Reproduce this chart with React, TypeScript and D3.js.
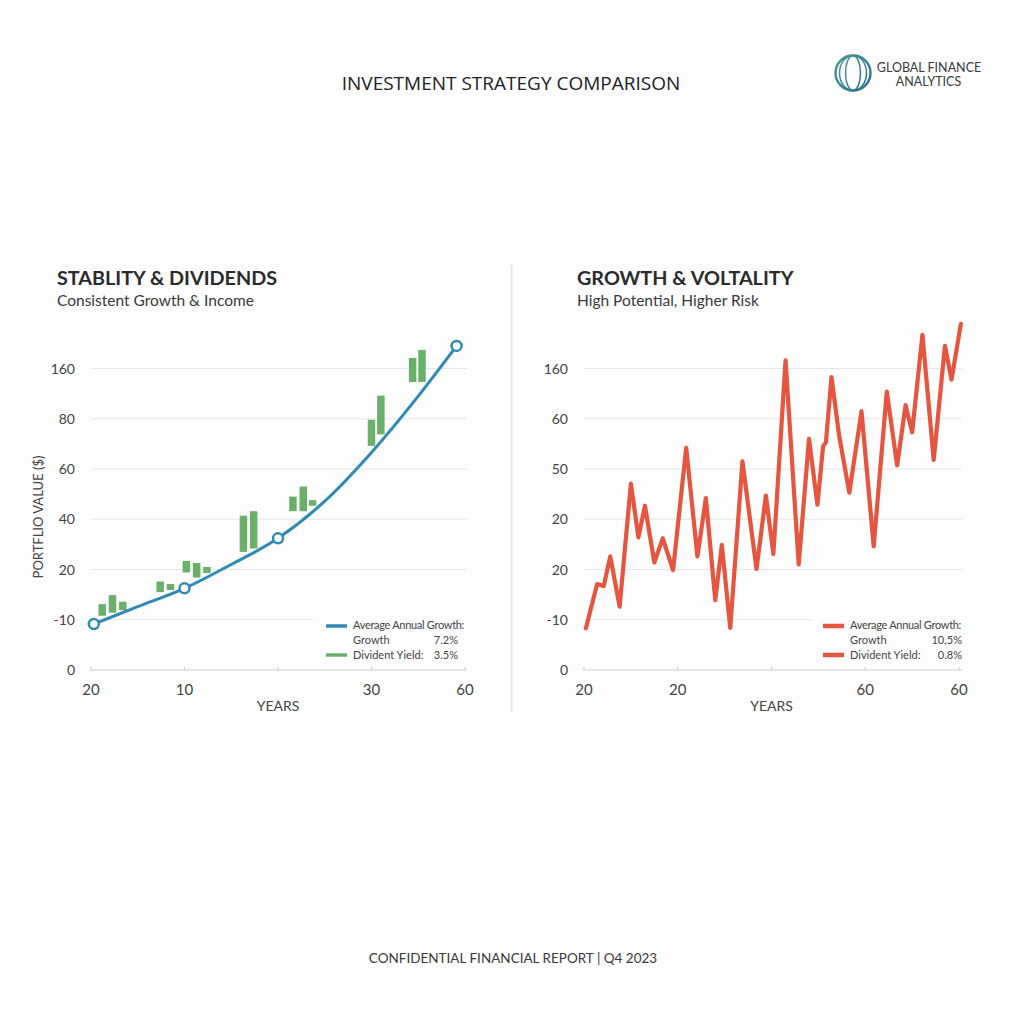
import React from "react";
import * as d3 from "d3";

// ---------- data (x in year-tick units, y in gridline units) ----------
const leftYTicks = ["0", "-10", "20", "40", "60", "80", "160"];
const rightYTicks = ["0", "-10", "20", "20", "50", "60", "160"];
const leftXTicks = ["20", "10", "", "30", "60"];
const rightXTicks = ["20", "20", "", "60", "60"];

const stableLine: [number, number][] = [
  [0.03, 0.915], [0.5, 1.26], [1.0, 1.625], [1.5, 2.1], [2.0, 2.62],
  [2.5, 3.36], [3.0, 4.33], [3.5, 5.45], [3.91, 6.45],
];
const stableMarkers: [number, number][] = [
  [0.03, 0.915], [1.0, 1.625], [2.0, 2.62], [3.91, 6.45],
];
const dividendX = [0.12, 0.23, 0.34, 0.74, 0.85, 1.02, 1.13, 1.24, 1.63, 1.74, 2.16, 2.27, 2.37, 3.0, 3.1, 3.44, 3.54];
const dividendLow = [1.08, 1.14, 1.19, 1.55, 1.59, 1.94, 1.84, 1.93, 2.35, 2.42, 3.16, 3.16, 3.27, 4.46, 4.69, 5.73, 5.73];
const dividendHigh = [1.31, 1.49, 1.36, 1.76, 1.71, 2.17, 2.13, 2.05, 3.07, 3.16, 3.45, 3.65, 3.38, 4.98, 5.46, 6.21, 6.37];

const growthX = [0.02, 0.14, 0.21, 0.28, 0.38, 0.5, 0.58, 0.65, 0.75, 0.84, 0.95, 1.09, 1.21, 1.3, 1.4, 1.47, 1.56, 1.69, 1.84, 1.94, 2.02, 2.15, 2.29, 2.4, 2.49, 2.55, 2.58, 2.64, 2.72, 2.83, 2.96, 3.09, 3.23, 3.34, 3.43, 3.5, 3.61, 3.73, 3.85, 3.92, 4.02];
const growthY = [0.83, 1.71, 1.67, 2.26, 1.26, 3.71, 2.64, 3.27, 2.14, 2.62, 1.99, 4.42, 2.26, 3.42, 1.39, 2.49, 0.84, 4.15, 2.01, 3.47, 2.31, 6.16, 2.1, 4.6, 3.29, 4.45, 4.53, 5.83, 4.68, 3.53, 5.15, 2.46, 5.54, 4.07, 5.27, 4.73, 6.67, 4.18, 6.45, 5.78, 6.89];

const BLUE = "#2f8ab5";
const GREEN = "#6aaf6a";
const RED = "#e5553f";
const TEXT = "#3a3a3a";

type PanelProps = {
  x0: number; x1: number; gridRight: number; labelX: number;
  yTicks: string[]; xTicks: string[]; children: (x: d3.ScaleLinear<number, number>, y: d3.ScaleLinear<number, number>) => React.ReactNode;
  legendX: number; swatch: [string, string]; swatchW: number; pct: [string, string]; pctX: number; gridCut: number;
};

function Panel(p: PanelProps) {
  const x = d3.scaleLinear().domain([0, 4]).range([p.x0, p.x1]);
  const y = d3.scaleLinear().domain([0, 6]).range([670, 368.5]);
  return (
    <g>
      {p.yTicks.map((t, i) => (
        <g key={i}>
          {i > 0 && (
            <line x1={p.x0} x2={i === 1 ? p.gridCut : p.gridRight} y1={y(i)} y2={y(i)} stroke="#e6e6e6" strokeWidth={1.2} />
          )}
          <text x={p.labelX} y={y(i) + 5} textAnchor="end" fontSize={14} fill="#444">{t}</text>
        </g>
      ))}
      <line x1={p.x0} x2={p.gridRight} y1={y(0)} y2={y(0)} stroke="#d0d0d0" strokeWidth={1.2} />
      {p.xTicks.map((t, i) => (
        <g key={i}>
          <line x1={x(i)} x2={x(i)} y1={y(0) - 3} y2={y(0) + 1} stroke="#d0d0d0" strokeWidth={1.2} />
          <text x={x(i)} y={695} textAnchor="middle" fontSize={15} fill="#444">{t}</text>
        </g>
      ))}
      <text x={x(2)} y={711} textAnchor="middle" fontSize={14} fill="#444">YEARS</text>
      {p.children(x, y)}
      <g fontSize={11} fill="#444">
        <line x1={p.legendX - 27} x2={p.legendX - 6} y1={626} y2={626} stroke={p.swatch[0]} strokeWidth={p.swatchW} />
        <line x1={p.legendX - 27} x2={p.legendX - 6} y1={655} y2={655} stroke={p.swatch[1]} strokeWidth={p.swatchW} />
        <text x={p.legendX} y={629} letterSpacing={-0.3}>Average Annual Growth:</text>
        <text x={p.legendX} y={644}>Growth</text>
        <text x={p.pctX} y={644} textAnchor="end">{p.pct[0]}</text>
        <text x={p.legendX} y={659}>Divident Yield:</text>
        <text x={p.pctX} y={659} textAnchor="end">{p.pct[1]}</text>
      </g>
    </g>
  );
}

export default function App() {
  const lineGen = d3.line<[number, number]>();
  return (
    <svg width={1024} height={1024} style={{ position: "absolute", left: 0, top: 0 }} fontFamily="Lato, 'Open Sans', sans-serif">
      <rect width={1024} height={1024} fill="#fdfdfd" />
      <text x={511} y={90} textAnchor="middle" fontSize={19} fontWeight={500} fontFamily="'Open Sans', sans-serif" fill="#222">INVESTMENT STRATEGY COMPARISON</text>
      {/* logo */}
      <defs>
        <linearGradient id="globe" x1="0" y1="0" x2="1" y2="1">
          <stop offset="0" stopColor="#4a9a9a" />
          <stop offset="1" stopColor="#2a6f8a" />
        </linearGradient>
      </defs>
      <g fill="none" stroke="url(#globe)" strokeWidth={1.5}>
        <circle cx={853} cy={73} r={17.5} strokeWidth={2.4} />
        <ellipse cx={853} cy={73} rx={7.5} ry={17.5} />
        <ellipse cx={853} cy={73} rx={13.5} ry={17.5} />
        <line x1={853} x2={853} y1={55.5} y2={90.5} />
        <line x1={836} x2={870} y1={73} y2={73} />
        <line x1={838.5} x2={867.5} y1={64} y2={64} />
        <line x1={838.5} x2={867.5} y1={82} y2={82} />
      </g>
      <text x={929} y={72} textAnchor="middle" fontSize={12.5} fill="#3a3a3a">GLOBAL FINANCE</text>
      <text x={928.5} y={86} textAnchor="middle" fontSize={12.5} fill="#3a3a3a">ANALYTICS</text>

      {/* panel headings */}
      <text x={57} y={285} fontSize={19.8} fontWeight={700} fill="#2b2b2b">STABLITY &amp; DIVIDENDS</text>
      <text x={57} y={306} fontSize={15.5} fill={TEXT}>Consistent Growth &amp; Income</text>
      <text x={577} y={285} fontSize={19.8} fontWeight={700} fill="#2b2b2b">GROWTH &amp; VOLTALITY</text>
      <text x={577} y={306} fontSize={15.5} fill={TEXT}>High Potential, Higher Risk</text>

      <line x1={511.7} x2={511.7} y1={265} y2={712} stroke="#e0e0e0" strokeWidth={1.5} />

      <text transform="translate(43,517) rotate(-90)" textAnchor="middle" fontSize={13} fill="#444">PORTFLIO VALUE ($)</text>

      <Panel x0={91} x1={465} gridRight={467} labelX={75} yTicks={leftYTicks} xTicks={leftXTicks}
        legendX={353} swatch={[BLUE, GREEN]} swatchW={3.5} pct={["7.2%", "3.5%"]} pctX={458} gridCut={313}>
        {(x, y) => {
          const bw = x(0.08) - x(0);
          const curve = d3.line<[number, number]>().x(d => x(d[0])).y(d => y(d[1])).curve(d3.curveMonotoneX);
          return (
            <g>
              {dividendX.map((d, i) => (
                <rect key={i} x={x(d) - bw / 2} width={bw} y={y(dividendHigh[i])} height={y(dividendLow[i]) - y(dividendHigh[i])} fill={GREEN} />
              ))}
              <path d={curve(stableLine) || ""} fill="none" stroke={BLUE} strokeWidth={3} />
              {stableMarkers.map((d, i) => (
                <circle key={i} cx={x(d[0])} cy={y(d[1])} r={5} fill="#fff" stroke={BLUE} strokeWidth={2.5} />
              ))}
            </g>
          );
        }}
      </Panel>

      <Panel x0={584} x1={959} gridRight={962} labelX={568} yTicks={rightYTicks} xTicks={rightXTicks}
        legendX={850} swatch={[RED, RED]} swatchW={4.5} pct={["10.5%", "0.8%"]} pctX={962} gridCut={812}>
        {(x, y) => {
          const pts: [number, number][] = growthX.map((gx, i) => [x(gx), y(growthY[i])]);
          return <path d={lineGen(pts) || ""} fill="none" stroke={RED} strokeWidth={4.2} strokeLinejoin="round" strokeLinecap="round" />;
        }}
      </Panel>

      <text x={513} y={963} textAnchor="middle" fontSize={13.5} fill="#3a3a3a">CONFIDENTIAL FINANCIAL REPORT | Q4 2023</text>
    </svg>
  );
}
